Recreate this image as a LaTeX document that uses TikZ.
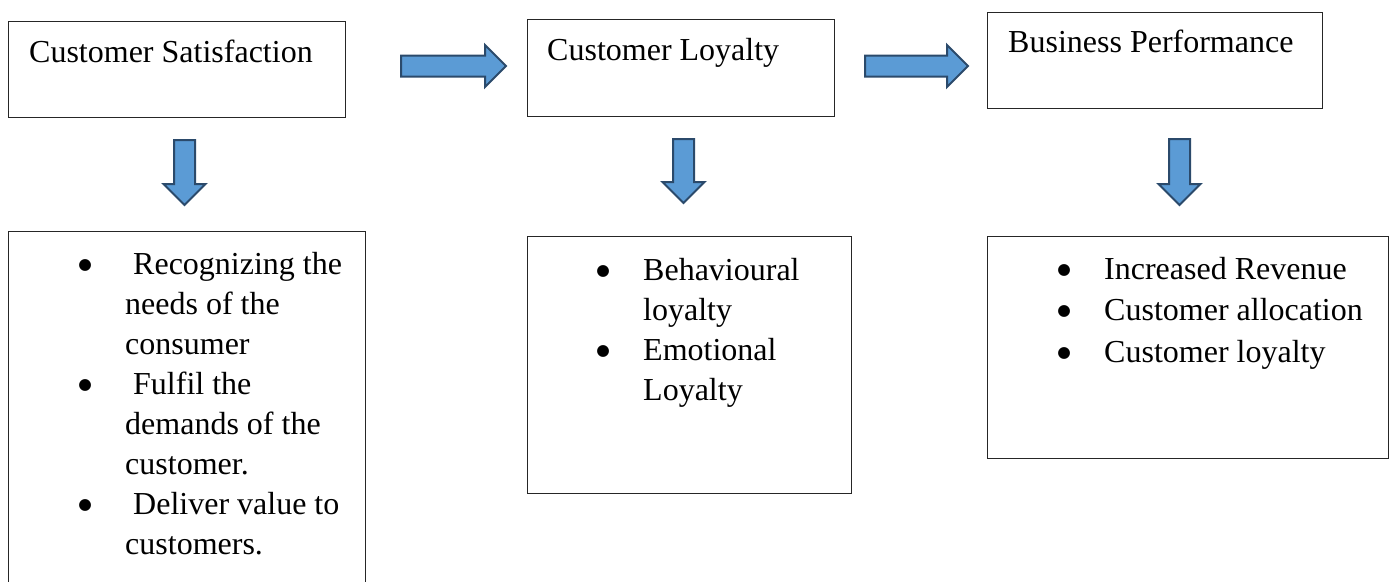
\documentclass[tikz,border=0pt]{standalone}
\usepackage{fontspec}
\setmainfont{Liberation Serif}
\newfontfamily\dotfont{DejaVu Sans}
\usetikzlibrary{shapes.arrows}

\definecolor{arrowfill}{HTML}{5B9BD5}
\definecolor{arrowline}{HTML}{2B4A6B}

% bullet column and the indent of follow-on lines
\newcommand{\bul}{\makebox[80pt][c]{\raisebox{5pt}{\dotfont\fontsize{15.5}{16}\selectfont ●}}}
\newcommand{\cont}{\hspace*{80pt}}

\begin{document}
\begin{tikzpicture}[
    x=1pt, y=-1pt,
    box node/.style={draw=black!85, line width=1.1pt, inner sep=0pt, anchor=north west},
    title node/.style={font=\fontsize{32}{40}\selectfont, inner sep=0pt, anchor=base west},
    list node/.style={font=\fontsize{32}{40}\selectfont, inner sep=0pt, anchor=base west},
    block arrow/.style={shape=single arrow, fill=arrowfill, draw=arrowline, line width=2pt,
        inner sep=9.5pt, single arrow head extend=10.5pt, single arrow tip angle=90,
        anchor=tail}
]

%================CANVAS================
\clip (0,0) rectangle (1391,581);

%================TOP ROW================
\node[box node, minimum width=337pt, minimum height=96pt] (sat) at (8,21) {};
\node[box node, minimum width=307pt, minimum height=97pt] (loy) at (527,19) {};
\node[box node, minimum width=335pt, minimum height=96pt] (bus) at (987,12) {};

\node[title node] (satText) at (29,62) {Customer Satisfaction};
\node[title node] (loyText) at (547,60) {Customer Loyalty};
\node[title node] (busText) at (1008,52) {Business Performance};

%================BOTTOM ROW================
% left box runs off the bottom edge
\node[box node, minimum width=357pt, minimum height=380pt] (satBox) at (8,231) {};
\node[box node, minimum width=324pt, minimum height=257pt] (loyBox) at (527,236) {};
\node[box node, minimum width=401pt, minimum height=222pt] (busBox) at (987,236) {};

\node[list node] (satList) at (45,274) {%
    \begin{tabular}[t]{@{}l@{}}
    \bul\ Recognizing the\\
    \cont needs of the\\
    \cont consumer\\
    \bul\ Fulfil the\\
    \cont demands of the\\
    \cont customer.\\
    \bul\ Deliver value to\\
    \cont customers.
    \end{tabular}};

\node[list node] (loyList) at (563,280) {%
    \begin{tabular}[t]{@{}l@{}}
    \bul Behavioural\\
    \cont loyalty\\
    \bul Emotional\\
    \cont Loyalty
    \end{tabular}};

\node[list node, font=\fontsize{32}{41.5}\selectfont] (busList) at (1024,279) {%
    \begin{tabular}[t]{@{}l@{}}
    \bul Increased Revenue\\
    \bul Customer allocation\\
    \bul Customer loyalty
    \end{tabular}};

%================ARROWS================
% name / tail x / tail y / length / turn
\foreach \name/\x/\y/\len/\rot in {r1/400/66/105/0, r2/864/66/103/0,
        d1/184.5/139/65/-90, d2/683.5/138/64/-90, d3/1179.5/138/66/-90} {
    \node[block arrow, rotate=\rot, minimum height=\len pt] (\name) at (\x,\y) {};
}

\end{tikzpicture}
\end{document}
